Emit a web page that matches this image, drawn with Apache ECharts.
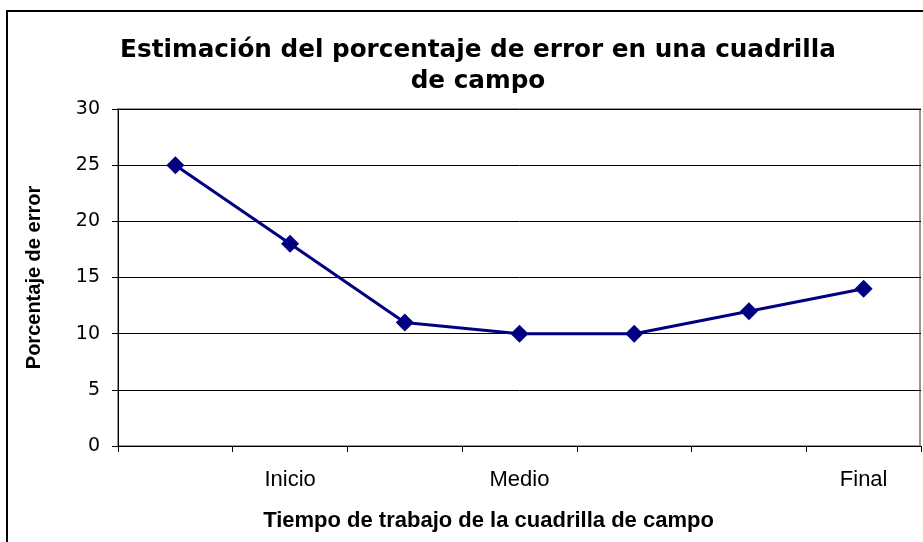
<!DOCTYPE html>
<html><head><meta charset="utf-8">
<script src="https://cdn.jsdelivr.net/npm/echarts@6/dist/echarts.min.js"></script>
<style>html,body{margin:0;padding:0;background:#fff}#c{width:923px;height:542px}</style>
</head><body><div id="c"></div>
<script>
var categories = ['', 'Inicio', '', 'Medio', '', '', 'Final'];
var values = [25, 18, 11, 10, 10, 12, 14];
var yTicks = [0, 5, 10, 15, 20, 25, 30];

var chart = echarts.init(document.getElementById('c'), null, {renderer: 'canvas'});
chart.setOption({
  animation: false,
  backgroundColor: '#fff',
  title: {
    text: 'Estimación del porcentaje de error en una cuadrilla\nde campo',
    left: 473, top: 30, textAlign: 'center',
    textStyle: {fontFamily: 'DejaVu Sans', fontWeight: 'bold', fontSize: 24.7, color: '#000', lineHeight: 31}
  },
  graphic: [{
    type: 'rect', shape: {x: 7, y: 11, width: 925, height: 540},
    style: {fill: 'none', stroke: '#000', lineWidth: 2}, silent: true
  }, {
    type: 'rect', shape: {x: 118, y: 109, width: 802, height: 337},
    style: {fill: 'none', stroke: '#999', lineWidth: 2}, silent: true, z: -1
  }],
  grid: {left: 118, right: 2, top: 109, bottom: 96, containLabel: false},
  xAxis: {
    type: 'category', data: categories, boundaryGap: true,
    axisLine: {lineStyle: {color: '#000', width: 1}},
    axisTick: {show: true, alignWithLabel: false, length: 6, interval: 0, lineStyle: {color: '#000'}},
    axisLabel: {interval: 0, fontFamily: 'Liberation Sans', fontSize: 22, color: '#000', margin: 23},
    name: 'Tiempo de trabajo de la cuadrilla de campo', nameLocation: 'middle', nameGap: 64,
    nameTextStyle: {fontFamily: 'Liberation Sans', fontWeight: 'bold', fontSize: 22, color: '#000', padding: [0, 62, 0, 0]}
  },
  yAxis: {
    type: 'value', min: yTicks[0], max: yTicks[yTicks.length - 1], interval: 5,
    axisLine: {show: true, lineStyle: {color: '#000', width: 1}},
    axisTick: {show: true, length: 6, lineStyle: {color: '#000'}},
    axisLabel: {fontFamily: 'DejaVu Sans', fontSize: 19, color: '#000', margin: 18},
    splitLine: {show: true, lineStyle: {color: '#000', width: 1}},
    name: 'Porcentaje de error', nameLocation: 'middle', nameGap: 74, nameRotate: 90,
    nameTextStyle: {fontFamily: 'Liberation Sans', fontWeight: 'bold', fontSize: 20, color: '#000'}
  },
  series: [{
    type: 'line', data: values,
    lineStyle: {color: '#000080', width: 3},
    itemStyle: {color: '#000080'},
    symbol: 'diamond', symbolSize: 18, showSymbol: true
  }]
});
</script></body></html>
